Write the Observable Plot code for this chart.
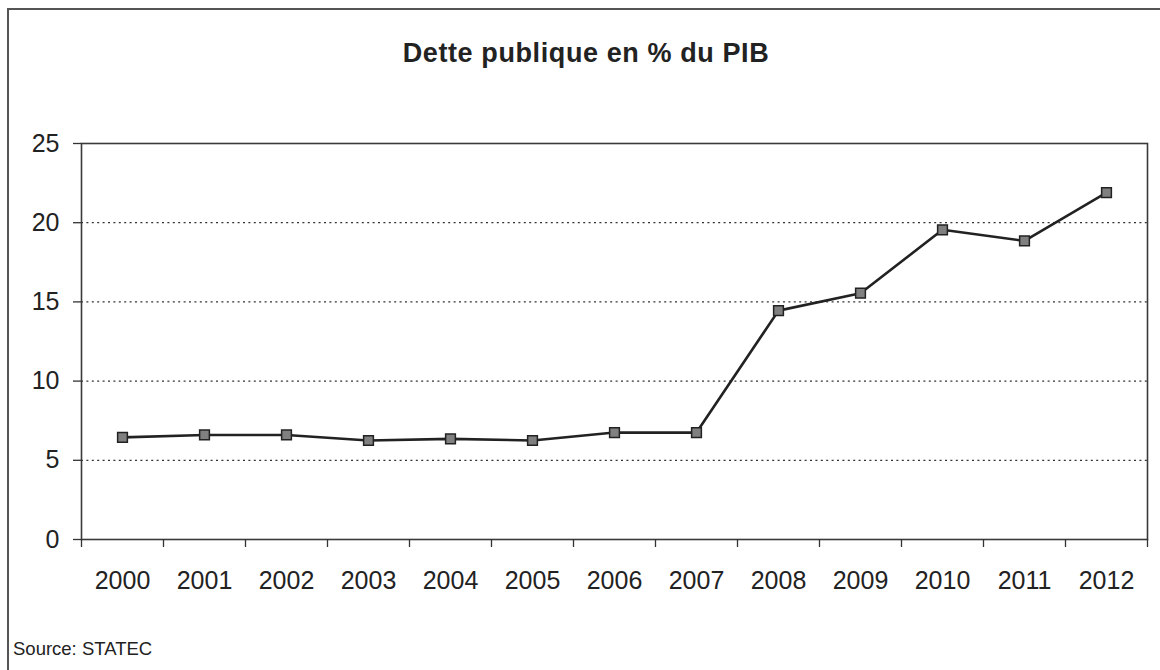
<!DOCTYPE html>
<html>
<head>
<meta charset="utf-8">
<script src="https://cdn.jsdelivr.net/npm/d3@7"></script>
<script src="https://cdn.jsdelivr.net/npm/@observablehq/plot@0.6"></script>
<style>
  html, body { margin: 0; padding: 0; background: #fff; }
  #wrap { position: relative; width: 1160px; height: 670px; overflow: hidden; background: #fff; }
  #border { position: absolute; left: 7px; top: 8px; width: 1170px; height: 700px;
            border-top: 2px solid #555; border-left: 2px solid #555; pointer-events: none; }
  #title { position: absolute; left: 6px; top: 40px; width: 1160px; text-align: center;
           font-family: "Liberation Sans", Arial, sans-serif; font-weight: bold; font-size: 27px;
           line-height: 1; letter-spacing: 0.6px; color: #222; }
  #chart { position: absolute; left: 0; top: 100px; }
  #source { position: absolute; left: 13px; top: 640px;
            font-family: "Liberation Sans", Arial, sans-serif; font-size: 18.5px; line-height: 1; color: #222; }
</style>
</head>
<body>
<div id="wrap">
  <div id="title">Dette publique en % du PIB</div>
  <div id="chart"></div>
  <div id="source">Source: STATEC</div>
  <div id="border"></div>
</div>
<script>
const years = [2000, 2001, 2002, 2003, 2004, 2005, 2006, 2007, 2008, 2009, 2010, 2011, 2012];
const debt = [6.45, 6.6, 6.6, 6.25, 6.35, 6.25, 6.75, 6.75, 14.45, 15.55, 19.55, 18.85, 21.9];
const yTicks = [0, 5, 10, 15, 20, 25];
const gridTicks = [5, 10, 15, 20];

const data = years.map((y, i) => ({year: y, value: debt[i]}));
const boundaries = years.map(y => y - 0.5).concat([years[years.length - 1] + 0.5]);

const plot = Plot.plot({
  width: 1160,
  height: 520,
  marginTop: 43,
  marginBottom: 81,
  marginLeft: 81,
  marginRight: 13,
  style: {fontFamily: "Liberation Sans, Arial, sans-serif", fontSize: "25px", color: "#222", background: "transparent"},
  x: {type: "linear", domain: [years[0] - 0.5, years[years.length - 1] + 0.5]},
  y: {domain: [0, 25]},
  marks: [
    Plot.gridY(gridTicks, {stroke: "#333", strokeOpacity: 1, strokeWidth: 1.3, strokeDasharray: "2,3.4"}),
    Plot.frame({stroke: "#3a3a3a", strokeWidth: 1.6}),
    Plot.axisY(yTicks, {tickSize: 8, tickPadding: 14, label: null, tickFormat: d => String(d),
      stroke: "#333", strokeWidth: 1.3, fill: "#222", fontSize: 25, style: "letter-spacing:1.2px"}),
    Plot.axisX(boundaries, {tickSize: 8, text: null, label: null, stroke: "#333", strokeWidth: 1.3}),
    Plot.axisX(years, {tickSize: 0, tickPadding: 32, label: null, tickFormat: d => String(d),
      fill: "#222", fontSize: 25, style: "letter-spacing:1.2px"}),
    Plot.line(data, {x: "year", y: "value", stroke: "#222", strokeWidth: 2.6}),
    Plot.dot(data, {x: "year", y: "value", symbol: "square", r: 5.5, fill: "#808080", stroke: "#222", strokeWidth: 1.5})
  ]
});
document.getElementById("chart").appendChild(plot);
</script>
</body>
</html>
